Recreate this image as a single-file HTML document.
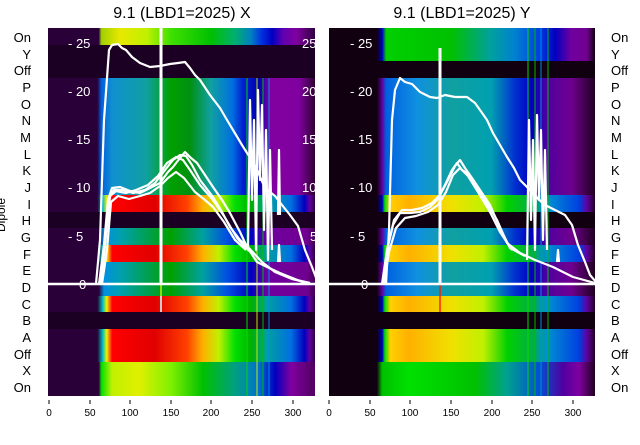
<!DOCTYPE html>
<html><head><meta charset="utf-8"><style>
body{margin:0;background:#fff;width:640px;height:440px;overflow:hidden}
text{font-family:"Liberation Sans","DejaVu Sans",sans-serif}
</style></head><body>
<svg width="640" height="440" viewBox="0 0 640 440" xmlns="http://www.w3.org/2000/svg">
<defs>
<linearGradient id="LygT" x1="0" x2="1">
<stop offset="0" stop-color="#2a0038"/><stop offset=".19" stop-color="#2a0038"/><stop offset=".2" stop-color="#a0d000"/><stop offset=".27" stop-color="#e8e800"/><stop offset=".37" stop-color="#c0f000"/><stop offset=".46" stop-color="#40e000"/><stop offset=".61" stop-color="#00c000"/><stop offset=".7" stop-color="#00b070"/><stop offset=".76" stop-color="#0080c0"/><stop offset=".8" stop-color="#0030e0"/><stop offset=".84" stop-color="#0000c0"/><stop offset=".88" stop-color="#6000b0"/><stop offset=".93" stop-color="#8000a0"/><stop offset="1" stop-color="#300040"/></linearGradient>
<linearGradient id="Lbl" x1="0" x2="1">
<stop offset="0" stop-color="#2a0038"/><stop offset=".185" stop-color="#2a0038"/><stop offset=".2" stop-color="#0060e0"/><stop offset=".24" stop-color="#1090d0"/><stop offset=".37" stop-color="#10a0a0"/><stop offset=".46" stop-color="#00a000"/><stop offset=".53" stop-color="#009010"/><stop offset=".61" stop-color="#10a0a0"/><stop offset=".69" stop-color="#0070e0"/><stop offset=".73" stop-color="#0020d0"/><stop offset=".79" stop-color="#0000b0"/><stop offset=".83" stop-color="#8000a0"/><stop offset=".94" stop-color="#8000a0"/><stop offset="1" stop-color="#300030"/></linearGradient>
<linearGradient id="Lrd" x1="0" x2="1">
<stop offset="0" stop-color="#2a0038"/><stop offset=".185" stop-color="#2a0038"/><stop offset=".205" stop-color="#00c0c0"/><stop offset=".22" stop-color="#f0f000"/><stop offset=".24" stop-color="#ff0000"/><stop offset=".4" stop-color="#e00000"/><stop offset=".52" stop-color="#ff4000"/><stop offset=".58" stop-color="#ffb000"/><stop offset=".64" stop-color="#c0f000"/><stop offset=".7" stop-color="#00e000"/><stop offset=".76" stop-color="#00b000"/><stop offset=".82" stop-color="#00a0a0"/><stop offset=".91" stop-color="#0070e0"/><stop offset=".96" stop-color="#0000c0"/><stop offset=".98" stop-color="#6000a0"/><stop offset="1" stop-color="#300040"/></linearGradient>
<linearGradient id="Ltl" x1="0" x2="1">
<stop offset="0" stop-color="#2a0038"/><stop offset=".19" stop-color="#2a0038"/><stop offset=".21" stop-color="#0090e0"/><stop offset=".27" stop-color="#00a0b0"/><stop offset=".46" stop-color="#00a000"/><stop offset=".58" stop-color="#00a0a0"/><stop offset=".67" stop-color="#0050e0"/><stop offset=".76" stop-color="#0000c0"/><stop offset=".82" stop-color="#7000a0"/><stop offset=".97" stop-color="#700090"/><stop offset="1" stop-color="#400050"/></linearGradient>
<linearGradient id="Lygb" x1="0" x2="1">
<stop offset="0" stop-color="#2a0038"/><stop offset=".19" stop-color="#2a0038"/><stop offset=".2" stop-color="#00e000"/><stop offset=".24" stop-color="#c0f000"/><stop offset=".34" stop-color="#e0f000"/><stop offset=".46" stop-color="#80f000"/><stop offset=".58" stop-color="#00c000"/><stop offset=".7" stop-color="#00a080"/><stop offset=".79" stop-color="#0070d0"/><stop offset=".85" stop-color="#0000c0"/><stop offset=".91" stop-color="#8000a0"/><stop offset="1" stop-color="#500060"/></linearGradient>
<linearGradient id="Rgt" x1="0" x2="1">
<stop offset="0" stop-color="#100010"/><stop offset=".18" stop-color="#100010"/><stop offset=".2" stop-color="#0000c0"/><stop offset=".215" stop-color="#00d000"/><stop offset=".46" stop-color="#00c000"/><stop offset=".61" stop-color="#00a0a0"/><stop offset=".7" stop-color="#0080d0"/><stop offset=".79" stop-color="#0040e0"/><stop offset=".85" stop-color="#0000c0"/><stop offset=".91" stop-color="#7000a0"/><stop offset=".97" stop-color="#700090"/><stop offset="1" stop-color="#100010"/></linearGradient>
<linearGradient id="Rbl" x1="0" x2="1">
<stop offset="0" stop-color="#100010"/><stop offset=".18" stop-color="#100010"/><stop offset=".2" stop-color="#6000a0"/><stop offset=".215" stop-color="#0060e0"/><stop offset=".33" stop-color="#1090e0"/><stop offset=".46" stop-color="#10a0a0"/><stop offset=".61" stop-color="#00a0b0"/><stop offset=".7" stop-color="#0030d0"/><stop offset=".76" stop-color="#0000c0"/><stop offset=".82" stop-color="#5000a0"/><stop offset=".91" stop-color="#700090"/><stop offset="1" stop-color="#200020"/></linearGradient>
<linearGradient id="Ryl" x1="0" x2="1">
<stop offset="0" stop-color="#100010"/><stop offset=".18" stop-color="#100010"/><stop offset=".2" stop-color="#0000c0"/><stop offset=".21" stop-color="#00e000"/><stop offset=".23" stop-color="#ffd000"/><stop offset=".3" stop-color="#ffb000"/><stop offset=".46" stop-color="#f0e000"/><stop offset=".58" stop-color="#c0f000"/><stop offset=".67" stop-color="#00d000"/><stop offset=".76" stop-color="#00b040"/><stop offset=".82" stop-color="#0090d0"/><stop offset=".94" stop-color="#0040e0"/><stop offset=".97" stop-color="#6000a0"/><stop offset="1" stop-color="#200020"/></linearGradient>
<linearGradient id="Rgb" x1="0" x2="1">
<stop offset="0" stop-color="#100010"/><stop offset=".18" stop-color="#100010"/><stop offset=".2" stop-color="#00c000"/><stop offset=".3" stop-color="#00e000"/><stop offset=".55" stop-color="#00c000"/><stop offset=".67" stop-color="#00a090"/><stop offset=".79" stop-color="#0050d0"/><stop offset=".88" stop-color="#5000a0"/><stop offset=".94" stop-color="#8000a0"/><stop offset="1" stop-color="#200020"/></linearGradient>
<clipPath id="cl"><rect x="48" y="28" width="267" height="368"/></clipPath>
<clipPath id="cr"><rect x="329" y="28" width="266" height="368"/></clipPath>
</defs>

<text x="182" y="18" font-size="16" text-anchor="middle">9.1 (LBD1=2025) X</text>
<text x="462" y="18" font-size="16" text-anchor="middle">9.1 (LBD1=2025) Y</text>

<!-- LEFT PANEL -->
<g clip-path="url(#cl)">
<rect x="48" y="28" width="267" height="17" fill="url(#LygT)"/>
<rect x="48" y="45" width="267" height="33" fill="#1c0024"/>
<rect x="48" y="78" width="267" height="117" fill="url(#Lbl)"/>
<rect x="48" y="195" width="267" height="17" fill="url(#Lrd)"/>
<rect x="48" y="212" width="267" height="16" fill="#1c0024"/>
<rect x="48" y="228" width="267" height="17" fill="url(#Ltl)"/>
<rect x="48" y="245" width="267" height="17" fill="url(#Lrd)"/>
<rect x="48" y="262" width="267" height="34" fill="url(#Ltl)"/>
<rect x="48" y="296" width="267" height="16" fill="url(#Lrd)"/>
<rect x="48" y="312" width="267" height="17" fill="#1c0024"/>
<rect x="48" y="329" width="267" height="33" fill="url(#Lrd)"/>
<rect x="48" y="362" width="267" height="34" fill="url(#Lygb)"/>
<g stroke-width="1.2" opacity=".8"><line x1="247" y1="78" x2="247" y2="396" stroke="#00e000"/><line x1="257" y1="78" x2="257" y2="396" stroke="#c0f000"/><line x1="263" y1="78" x2="263" y2="396" stroke="#00c000"/><line x1="269" y1="78" x2="269" y2="396" stroke="#0090e0"/></g>
<line x1="161" y1="228" x2="161" y2="296" stroke="#c0f000" stroke-width="1.5"/>
<line x1="161" y1="296" x2="161" y2="312" stroke="#ccc" stroke-width="2"/>
<g fill="#fff" font-size="13"><text x="68" y="48">- 25</text><text x="68" y="96">- 20</text><text x="68" y="144">- 15</text><text x="68" y="192">- 10</text><text x="68" y="241">- 5</text><text x="79" y="289">0</text>
<text x="302" y="48">25</text><text x="302" y="96">20</text><text x="302" y="144">15</text><text x="302" y="192">10</text><text x="310" y="241">5</text></g>
<g fill="none" stroke="#fff" stroke-width="2.2" stroke-linejoin="round">
<polyline points="96,284 100,240 104,120 109,50 112,45 118,44 122,48 126,50 132,57 140,63 150,67 160,66 170,64 178,63 185,62 190,68 195,75 200,80 210,95 220,108 227,120 236,135 242,145 247,153 252,160 258,172 265,188 275,196 282,205 290,215 298,226 305,250 312,267 318,283"/>
<polyline points="99,284 104,245 108,200 112,188 120,187 130,191 140,193 150,188 160,183 168,172 173,167 180,158 185,152 191,158 197,163 205,175 213,187 222,200 230,213 240,232 247,247 257,262 267,267 280,273 290,277 305,283"/>
<polyline points="100,284 105,240 109,198 114,190 123,190 133,193 145,190 155,183 165,170 173,160 180,155 186,156 192,165 200,180 213,197 222,212 230,227 240,240 247,246 262,262 275,272 292,279 310,283"/>
<polyline points="101,284 106,235 110,196 116,191 126,193 136,190 148,185 158,176 167,163 176,157 183,160 190,170 200,185 213,200 224,216 237,238 249,251"/>
<polyline points="102,284 107,250 111,202 118,196 129,199 140,196 150,193 160,186 168,178 176,172 184,178 195,192 205,200 213,207 224,222 235,240 246,250"/>
<polyline points="248,250 250,100 252,200 254,120 256,250 258,90 260,180 262,105 264,230 266,130 268,260 270,150 272,250"/>
<polyline points="278,215 279,150 280,215"/><polyline points="278,262 279,245 280,262"/>
</g>
<line x1="161" y1="28" x2="161" y2="284" stroke="#fff" stroke-width="3"/>
</g>
<line x1="20" y1="284" x2="315" y2="284" stroke="#fff" stroke-width="2.5"/>

<!-- RIGHT PANEL -->
<g clip-path="url(#cr)">
<rect x="329" y="28" width="266" height="33" fill="url(#Rgt)"/>
<rect x="329" y="61" width="266" height="17" fill="#100010"/>
<rect x="329" y="78" width="266" height="117" fill="url(#Rbl)"/>
<rect x="329" y="195" width="266" height="17" fill="url(#Ryl)"/>
<rect x="329" y="212" width="266" height="16" fill="#100010"/>
<rect x="329" y="228" width="266" height="17" fill="url(#Rbl)"/>
<rect x="329" y="245" width="266" height="17" fill="url(#Ryl)"/>
<rect x="329" y="262" width="266" height="34" fill="url(#Rbl)"/>
<rect x="329" y="296" width="266" height="16" fill="url(#Ryl)"/>
<rect x="329" y="312" width="266" height="17" fill="#100010"/>
<rect x="329" y="329" width="266" height="33" fill="url(#Ryl)"/>
<rect x="329" y="362" width="266" height="34" fill="url(#Rgb)"/>
<g stroke-width="1.2" opacity=".8"><line x1="528" y1="28" x2="528" y2="396" stroke="#00e000"/><line x1="535" y1="28" x2="535" y2="396" stroke="#00c000"/><line x1="541" y1="28" x2="541" y2="396" stroke="#0090e0"/><line x1="548" y1="28" x2="548" y2="396" stroke="#00c000"/></g>
<line x1="440" y1="228" x2="440" y2="312" stroke="#ff2000" stroke-width="1.5"/>
<g fill="#fff" font-size="13"><text x="350" y="48">- 25</text><text x="350" y="96">- 20</text><text x="350" y="144">- 15</text><text x="350" y="192">- 10</text><text x="350" y="241">- 5</text><text x="361" y="289">0</text></g>
<g fill="none" stroke="#fff" stroke-width="2.2" stroke-linejoin="round">
<polyline points="386,284 389,230 392,120 395,90 400,78 405,82 412,84 420,92 430,97 437,98 445,95 455,97 467,97 475,103 480,110 487,120 493,133 500,145 507,157 514,168 520,180 527,187 535,196 545,205 555,210 565,215 572,225 578,245 585,262 590,275 596,282"/>
<polyline points="382,284 387,250 393,225 400,213 410,213 420,212 430,207 437,200 445,185 452,170 457,163 462,170 467,173 475,185 483,197 490,208 497,220 507,243 520,253 535,260 553,267 573,277 595,283"/>
<polyline points="383,284 388,246 394,220 402,210 412,210 422,208 432,203 440,195 448,180 455,166 460,160 465,168 472,178 480,190 490,205 500,228 510,248 525,256"/>
<polyline points="384,284 389,252 396,228 405,218 416,216 428,212 438,205 446,192 453,175 460,168 468,176 478,192 490,212 500,232 512,250"/>
<polyline points="527,260 529,120 531,220 533,140 535,250 537,115 539,200 541,130 543,240 545,150 547,250"/>
<polyline points="557,262 558,250 559,262"/>
</g>
<line x1="440" y1="48" x2="440" y2="284" stroke="#fff" stroke-width="3"/>
</g>
<line x1="329" y1="284" x2="595" y2="284" stroke="#fff" stroke-width="2.5"/>

<!-- row labels: 22 rows, pitch 16.67 -->
<g font-size="13" text-anchor="end">
<text x="31" y="42">On</text><text x="31" y="59">Y</text><text x="31" y="75">Off</text><text x="31" y="92">P</text><text x="31" y="109">O</text><text x="31" y="125">N</text><text x="31" y="142">M</text><text x="31" y="159">L</text><text x="31" y="175">K</text><text x="31" y="192">J</text><text x="31" y="209">I</text><text x="31" y="225">H</text><text x="31" y="242">G</text><text x="31" y="259">F</text><text x="31" y="275">E</text><text x="31" y="292">D</text><text x="31" y="309">C</text><text x="31" y="325">B</text><text x="31" y="342">A</text><text x="31" y="359">Off</text><text x="31" y="375">X</text><text x="31" y="392">On</text>
</g>
<g font-size="13">
<text x="611" y="42">On</text><text x="611" y="59">Y</text><text x="611" y="75">Off</text><text x="611" y="92">P</text><text x="611" y="109">O</text><text x="611" y="125">N</text><text x="611" y="142">M</text><text x="611" y="159">L</text><text x="611" y="175">K</text><text x="611" y="192">J</text><text x="611" y="209">I</text><text x="611" y="225">H</text><text x="611" y="242">G</text><text x="611" y="259">F</text><text x="611" y="275">E</text><text x="611" y="292">D</text><text x="611" y="309">C</text><text x="611" y="325">B</text><text x="611" y="342">A</text><text x="611" y="359">Off</text><text x="611" y="375">X</text><text x="611" y="392">On</text>
</g>
<text x="5" y="215" font-size="12" transform="rotate(-90 5 215)" text-anchor="middle">Dipole</text>

<g stroke="#000" stroke-width="1">
<line x1="49" y1="400" x2="49" y2="404"/><line x1="90" y1="400" x2="90" y2="404"/><line x1="130" y1="400" x2="130" y2="404"/><line x1="171" y1="400" x2="171" y2="404"/><line x1="211" y1="400" x2="211" y2="404"/><line x1="252" y1="400" x2="252" y2="404"/><line x1="293" y1="400" x2="293" y2="404"/>
<line x1="329" y1="400" x2="329" y2="404"/><line x1="370" y1="400" x2="370" y2="404"/><line x1="410" y1="400" x2="410" y2="404"/><line x1="451" y1="400" x2="451" y2="404"/><line x1="492" y1="400" x2="492" y2="404"/><line x1="532" y1="400" x2="532" y2="404"/><line x1="573" y1="400" x2="573" y2="404"/>
</g>
<g font-size="10" text-anchor="middle">
<text x="49" y="416">0</text><text x="90" y="416">50</text><text x="130" y="416">100</text><text x="171" y="416">150</text><text x="211" y="416">200</text><text x="252" y="416">250</text><text x="293" y="416">300</text>
<text x="329" y="416">0</text><text x="370" y="416">50</text><text x="410" y="416">100</text><text x="451" y="416">150</text><text x="492" y="416">200</text><text x="532" y="416">250</text><text x="573" y="416">300</text>
</g>
</svg>
</body></html>
